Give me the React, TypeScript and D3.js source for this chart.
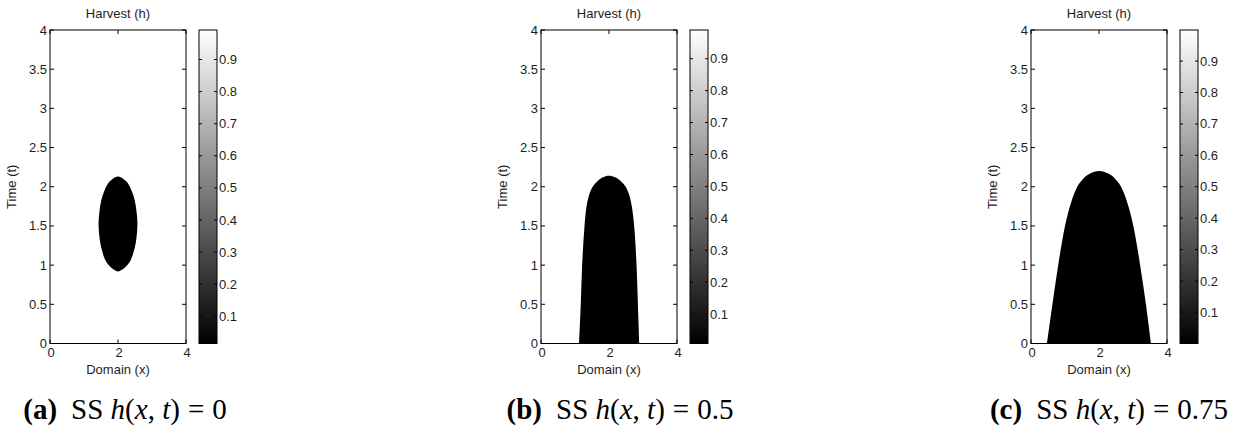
import React from "react";
import * as d3 from "d3";

// ---------- data ----------
const xTicks = [0, 2, 4];
const tTicks = [0, 0.5, 1, 1.5, 2, 2.5, 3, 3.5, 4];
const cbTicks = [0.1, 0.2, 0.3, 0.4, 0.5, 0.6, 0.7, 0.8, 0.9];

const panelLetters = ["a", "b", "c"];
const panelHarvest = ["0", "0.5", "0.75"];
const fieldMin = [0.015, 0.008, 0.001];
const fieldMax = [0.992, 0.99, 0.999];

// boundary of the black (low value) region: time levels with left / right edge in x
const aT = [0.92, 0.95, 1.0, 1.07, 1.17, 1.28, 1.42, 1.56, 1.7, 1.83, 1.95, 2.05, 2.1, 2.13];
const aLeft = [2.0, 1.85, 1.73, 1.62, 1.54, 1.48, 1.44, 1.43, 1.46, 1.51, 1.6, 1.72, 1.84, 2.0];
const aRight = [2.0, 2.15, 2.27, 2.38, 2.46, 2.52, 2.56, 2.57, 2.54, 2.49, 2.4, 2.28, 2.16, 2.0];

const bT = [0, 0.5, 1.0, 1.5, 1.75, 1.9, 2.0, 2.07, 2.12, 2.14];
const bLeft = [1.12, 1.17, 1.21, 1.28, 1.34, 1.42, 1.52, 1.66, 1.82, 2.0];
const bRight = [2.89, 2.85, 2.81, 2.74, 2.67, 2.59, 2.49, 2.35, 2.18, 2.0];

const cT = [0, 0.5, 1.0, 1.5, 1.8, 2.0, 2.1, 2.16, 2.2];
const cLeft = [0.47, 0.63, 0.8, 1.0, 1.18, 1.36, 1.53, 1.7, 2.0];
const cRight = [3.53, 3.38, 3.21, 3.01, 2.83, 2.65, 2.48, 2.31, 2.0];

const boundaries = [
  { t: aT, l: aLeft, r: aRight, closed: true, blur: true },
  { t: bT, l: bLeft, r: bRight, closed: false, blur: false },
  { t: cT, l: cLeft, r: cRight, closed: false, blur: false },
];

// ---------- layout ----------
const W = 1233;
const H = 430;
const panelLefts = [50, 541, 1031];
const captionCenters = [125, 620, 1109];
const axW = 136;
const axTop = 30;
const axBottom = 343.5;
const cbOffset = 149;
const cbW = 18;
const sans = "'Liberation Sans', Arial, Helvetica, sans-serif";
const serif = "'Liberation Serif', 'Times New Roman', serif";
const textFill = "#1e1e1e";

function fmt(v: number) {
  return String(v);
}

function Panel({ i }: { i: number }) {
  const L = panelLefts[i];
  const x = d3.scaleLinear().domain([0, 4]).range([L, L + axW]);
  const y = d3.scaleLinear().domain([0, 4]).range([axBottom, axTop]);
  const color = d3
    .scaleLinear<string>()
    .domain([fieldMin[i], fieldMax[i]])
    .range(["#000000", "#ffffff"]);
  const b = boundaries[i];
  const pts: [number, number][] = [];
  for (let k = 0; k < b.t.length; k++) {
    if (!(b.closed && k === 0)) pts.push([b.l[k], b.t[k]]);
    else pts.push([b.l[k], b.t[k]]);
  }
  for (let k = b.t.length - 1; k >= 0; k--) {
    if (b.r[k] !== b.l[k]) pts.push([b.r[k], b.t[k]]);
  }
  const line = d3
    .line<[number, number]>()
    .x((d) => x(d[0]))
    .y((d) => y(d[1]))
    .curve(b.closed ? d3.curveCatmullRomClosed.alpha(0.5) : d3.curveCatmullRom.alpha(0.5));
  const pathD = line(pts) + (b.closed ? "" : "Z");

  const cbX = L + cbOffset;
  const cb = d3.scaleLinear().domain([fieldMin[i], fieldMax[i]]).range([axBottom, axTop]);
  const clipId = `clip-${i}`;
  const gradId = `grad-${i}`;
  const tickLen = 4;
  const cx = L + axW / 2;
  const cy = (axTop + axBottom) / 2;

  return (
    <g>
      <defs>
        <clipPath id={clipId}>
          <rect x={L} y={axTop} width={axW} height={axBottom - axTop} />
        </clipPath>
        <linearGradient id={gradId} x1="0" y1="1" x2="0" y2="0">
          <stop offset="0%" stopColor={color(fieldMin[i])} />
          <stop offset="100%" stopColor={color(fieldMax[i])} />
        </linearGradient>
      </defs>
      {/* field */}
      <rect x={L} y={axTop} width={axW} height={axBottom - axTop} fill={color(fieldMax[i])} />
      <g clipPath={`url(#${clipId})`}>
        <path
          d={pathD}
          fill={color(fieldMin[i])}
          filter={b.blur ? "url(#soft)" : undefined}
        />
      </g>
      {/* axes box */}
      <rect x={L} y={axTop} width={axW} height={axBottom - axTop} fill="none" stroke="#000" strokeWidth={1} />
      {tTicks.map((t) => (
        <g key={"t" + t}>
          <line x1={L} x2={L + tickLen} y1={y(t)} y2={y(t)} stroke="#000" />
          <line x1={L + axW} x2={L + axW - tickLen} y1={y(t)} y2={y(t)} stroke="#000" />
          <text
            x={L - 3}
            y={y(t)}
            dy="0.35em"
            textAnchor="end"
            fontFamily={sans}
            fontSize={13}
            fill={textFill}
          >
            {fmt(t)}
          </text>
        </g>
      ))}
      {xTicks.map((v) => (
        <g key={"x" + v}>
          <line x1={x(v)} x2={x(v)} y1={axBottom} y2={axBottom - tickLen} stroke="#000" />
          <line x1={x(v)} x2={x(v)} y1={axTop} y2={axTop + tickLen} stroke="#000" />
          <text x={x(v) + 1} y={357} textAnchor="middle" fontFamily={sans} fontSize={13} fill={textFill}>
            {fmt(v)}
          </text>
        </g>
      ))}
      <text x={cx} y={18} textAnchor="middle" fontFamily={sans} fontSize={13} fill={textFill}>
        Harvest (h)
      </text>
      <text x={cx} y={374} textAnchor="middle" fontFamily={sans} fontSize={13} fill={textFill}>
        Domain (x)
      </text>
      <text
        transform={`translate(${L - 34},${cy}) rotate(-90)`}
        textAnchor="middle"
        fontFamily={sans}
        fontSize={13}
        fill={textFill}
      >
        Time (t)
      </text>
      {/* colorbar */}
      <rect x={cbX} y={axTop} width={cbW} height={axBottom - axTop} fill={`url(#${gradId})`} />
      {cbTicks.map((v) => (
        <g key={"c" + v}>
          <line x1={cbX} x2={cbX + 3} y1={cb(v)} y2={cb(v)} stroke="#000" />
          <line x1={cbX + cbW} x2={cbX + cbW - 3} y1={cb(v)} y2={cb(v)} stroke="#000" />
          <text x={cbX + cbW + 2} y={cb(v)} dy="0.35em" fontFamily={sans} fontSize={13} fill={textFill}>
            {fmt(v)}
          </text>
        </g>
      ))}
      <rect x={cbX} y={axTop} width={cbW} height={axBottom - axTop} fill="none" stroke="#000" />
      {/* caption */}
      <text x={captionCenters[i]} y={419} textAnchor="middle" fontFamily={serif} fontSize={29} fill="#000">
        <tspan fontWeight="bold">({panelLetters[i]})</tspan>
        <tspan dx="14">SS </tspan>
        <tspan fontStyle="italic">h</tspan>
        <tspan>(</tspan>
        <tspan fontStyle="italic">x</tspan>
        <tspan>, </tspan>
        <tspan fontStyle="italic">t</tspan>
        <tspan>)</tspan>
        <tspan dx="8">=</tspan>
        <tspan dx="8">{panelHarvest[i]}</tspan>
      </text>
    </g>
  );
}

export default function App() {
  return (
    <div style={{ position: "absolute", left: 0, top: 0 }}>
      <svg width={W} height={H} viewBox={`0 0 ${W} ${H}`} style={{ display: "block", background: "#fff" }}>
        <defs>
          <filter id="soft" x="-20%" y="-20%" width="140%" height="140%">
            <feGaussianBlur stdDeviation="0.6" />
          </filter>
        </defs>
        <rect x={0} y={0} width={W} height={H} fill="#fff" />
        {panelLefts.map((_, i) => (
          <Panel key={i} i={i} />
        ))}
      </svg>
    </div>
  );
}
